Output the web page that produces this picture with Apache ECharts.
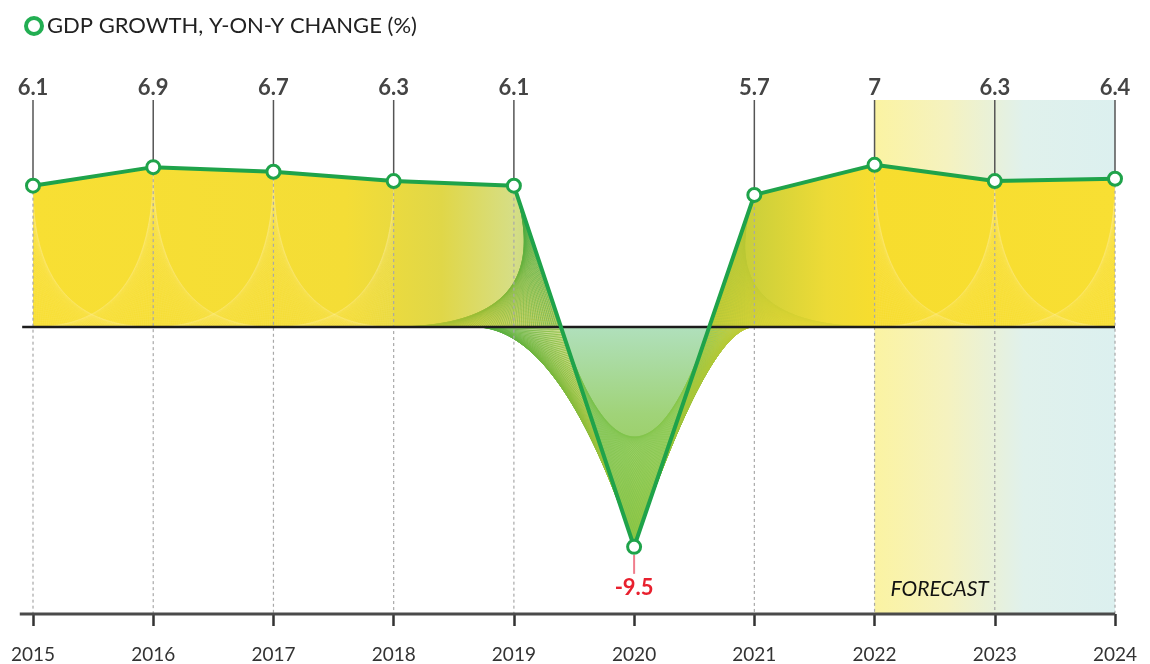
<!DOCTYPE html>
<html>
<head>
<meta charset="utf-8">
<script src="https://cdn.jsdelivr.net/npm/echarts@6/dist/echarts.min.js"></script>
<style>
  html, body { margin: 0; padding: 0; background: #fff; }
  #chart { width: 1150px; height: 664px; }
</style>
</head>
<body>
<div id="chart"></div>
<script>
// GDP growth, year-on-year change (%)
const years = ['2015', '2016', '2017', '2018', '2019', '2020', '2021', '2022', '2023', '2024'];
const growth = [6.1, 6.9, 6.7, 6.3, 6.1, -9.5, 5.7, 7, 6.3, 6.4];
const forecastStart = '2022';
const forecastEnd = '2024';
const seriesName = 'GDP GROWTH, Y-ON-Y CHANGE (%)';
const forecastLabel = 'FORECAST';

const Y_MIN = -12.4;
const Y_MAX = 9.8;
const GREEN = '#1fa34a';
const FONT = 'Lato, "Open Sans", sans-serif';

const chart = echarts.init(document.getElementById('chart'), null, { renderer: 'canvas' });

function hexToRgb(h) {
  h = h.replace('#', '');
  return [parseInt(h.slice(0, 2), 16), parseInt(h.slice(2, 4), 16), parseInt(h.slice(4, 6), 16)];
}
function mix(c0, c1, t) {
  const a = hexToRgb(c0), b = hexToRgb(c1);
  const r = a.map((v, i) => Math.round(v + (b[i] - v) * t));
  return 'rgb(' + r.join(',') + ')';
}
function lerp(p, q, t) {
  return [p[0] + (q[0] - p[0]) * t, p[1] + (q[1] - p[1]) * t];
}
// string-art fan: chords from A->B to B->C
function strings(A, B, C, n, c0, c1, width, opacity) {
  const out = [];
  for (let k = 0; k <= n; k++) {
    const t = k / n;
    const p = lerp(A, B, t), q = lerp(B, C, t);
    out.push({
      type: 'line', silent: true,
      shape: { x1: p[0], y1: p[1], x2: q[0], y2: q[1] },
      style: { stroke: mix(c0, c1, t), lineWidth: width, opacity: opacity }
    });
  }
  return out;
}

function renderArt(params, api) {
  const n = growth.length;
  const P = growth.map((v, i) => api.coord([i, v]));
  const Z = growth.map((v, i) => api.coord([i, 0]));
  const bottomY = api.coord([0, Y_MIN])[1];
  const topY = api.coord([0, Y_MAX])[1];
  const children = [];

  // split the profile into runs above / below zero
  const runs = [];
  let cur = { sign: growth[0] >= 0, pts: [Z[0], P[0]] };
  const crossings = {};
  for (let i = 0; i < n - 1; i++) {
    const a = growth[i], b = growth[i + 1];
    if ((a >= 0) !== (b >= 0)) {
      const t = a / (a - b);
      const X = api.coord([i + t, 0]);
      crossings[i] = X;
      cur.pts.push(X);
      runs.push(cur);
      cur = { sign: b >= 0, pts: [X] };
    }
    cur.pts.push(P[i + 1]);
  }
  cur.pts.push(Z[n - 1]);
  runs.push(cur);

  const x0 = Z[0][0], x1 = Z[n - 1][0];
  const f = (yr) => yr / (n - 1);
  const upperFill = new echarts.graphic.LinearGradient(x0, 0, x1, 0, [
    { offset: 0, color: '#f8df33' },
    { offset: f(2.6), color: '#f4dd36' },
    { offset: f(3.4), color: '#e0d748' },
    { offset: f(4), color: '#d6de86' },
    { offset: f(4.3), color: '#b8d27a' },
    { offset: f(5), color: '#8cc445' },
    { offset: f(5.7), color: '#b6c93a' },
    { offset: f(6), color: '#cdd03a' },
    { offset: f(6.6), color: '#eedb36' },
    { offset: f(7), color: '#f7dd2e' },
    { offset: 1, color: '#f8df33' }
  ], true);
  const lowerFill = new echarts.graphic.LinearGradient(0, 0, 0, 1, [
    { offset: 0, color: '#b0e0bc' },
    { offset: 0.4, color: '#a0d378' },
    { offset: 1, color: '#8fc53c' }
  ]);
  runs.forEach(r => {
    children.push({
      type: 'polygon', silent: true,
      shape: { points: r.pts },
      style: { fill: r.sign ? upperFill : lowerFill }
    });
  });

  // fine chords over the yellow area
  for (let i = 0; i < n - 1; i++) {
    if (growth[i] >= 0 && growth[i + 1] >= 0 && !(growth[i - 1] < 0) && !(growth[i + 2] < 0)) {
      children.push(...strings(P[i], Z[i], Z[i + 1], 60, '#fff7c4', '#fff3a8', 0.5, 0.14));
      children.push(...strings(Z[i], Z[i + 1], P[i + 1], 60, '#fff3a8', '#fff7c4', 0.5, 0.14));
    }
  }

  // fans around the dip
  for (let k = 1; k < n - 1; k++) {
    if (growth[k] < 0 && crossings[k - 1] && crossings[k]) {
      const XL = crossings[k - 1], XR = crossings[k];
      const wingL = api.coord([k - 1 - 0.33, 0]);
      // V interior
      children.push(...strings(XL, P[k], XR, 70, '#74bf4c', '#8cc84a', 0.7, 0.65));
      // wings below zero
      children.push(...strings(wingL, XL, P[k], 80, '#4aab42', '#a5c43a', 0.8, 0.9));
      children.push(...strings(P[k], XR, Z[k + 1], 80, '#86bf3c', '#c2cc36', 0.8, 0.9));
      // fans above zero
      if (k >= 2) children.push(...strings(Z[k - 2], XL, P[k - 1], 80, '#c8c82e', '#3fa845', 0.7, 0.7));
      if (k + 2 < n) children.push(...strings(P[k + 1], XR, Z[k + 2], 80, '#a8c236', '#e6d632', 0.7, 0.55));
    }
  }

  // dotted guides from each point to the bottom axis
  for (let i = 0; i < n; i++) {
    if (growth[i] < 0) continue;
    children.push({
      type: 'line', silent: true,
      shape: { x1: P[i][0], y1: P[i][1], x2: P[i][0], y2: bottomY },
      style: { stroke: '#a8a8a8', lineWidth: 1.2, lineDash: [3, 3] }
    });
  }

  // zero line
  const zl = api.coord([-0.09, 0]);
  children.push({
    type: 'line', silent: true,
    shape: { x1: zl[0], y1: zl[1], x2: Z[n - 1][0], y2: Z[n - 1][1] },
    style: { stroke: '#1c1c1c', lineWidth: 2.5 }
  });

  // bottom axis line
  const bl = api.coord([-0.11, Y_MIN]);
  children.push({
    type: 'line', silent: true,
    shape: { x1: bl[0], y1: bottomY, x2: Z[n - 1][0], y2: bottomY },
    style: { stroke: '#4a4a4a', lineWidth: 3 }
  });

  // value callouts
  for (let i = 0; i < n; i++) {
    const txt = String(growth[i]);
    if (growth[i] >= 0) {
      children.push({
        type: 'line', silent: true,
        shape: { x1: P[i][0], y1: topY, x2: P[i][0], y2: P[i][1] - 6 },
        style: { stroke: '#555', lineWidth: 1.5 }
      });
      children.push({
        type: 'text', silent: true,
        x: P[i][0], y: topY - 12,
        style: { text: txt, fill: '#444', font: '700 22px ' + FONT, align: 'center', verticalAlign: 'middle' }
      });
    } else {
      children.push({
        type: 'line', silent: true,
        shape: { x1: P[i][0], y1: P[i][1] + 8, x2: P[i][0], y2: P[i][1] + 27 },
        style: { stroke: '#f07d8c', lineWidth: 2 }
      });
      children.push({
        type: 'text', silent: true,
        x: P[i][0], y: P[i][1] + 41,
        style: { text: txt, fill: '#e8202e', font: '700 22px ' + FONT, align: 'center', verticalAlign: 'middle' }
      });
    }
  }
  return { type: 'group', children: children };
}

const option = {
  animation: false,
  backgroundColor: '#ffffff',
  legend: {
    left: 24, top: 15, padding: 0,
    itemWidth: 16, itemHeight: 16, itemGap: 12,
    textStyle: { fontFamily: FONT, fontSize: 22, color: '#222' },
    data: [{
      name: seriesName, icon: 'circle',
      itemStyle: { color: '#fff', borderColor: '#22ae52', borderWidth: 4 }
    }],
    selectedMode: false
  },
  grid: { left: 33, right: 35, top: 100, bottom: 50 },
  xAxis: {
    type: 'value', min: 0, max: years.length - 1, interval: 1,
    axisLine: { show: false, onZero: false },
    axisTick: { show: true, length: 12, lineStyle: { color: '#333', width: 2.5 } },
    axisLabel: {
      margin: 31, fontFamily: FONT, fontSize: 19, color: '#333',
      formatter: v => years[v] || ''
    },
    splitLine: { show: false }
  },
  yAxis: {
    type: 'value', min: Y_MIN, max: Y_MAX,
    show: false, splitLine: { show: false }
  },
  series: [
    {
      name: 'forecast-band', type: 'line', data: [], z: 1, silent: true,
      markArea: {
        silent: true,
        itemStyle: {
          color: new echarts.graphic.LinearGradient(0, 0, 1, 0, [
            { offset: 0, color: '#fbf3a2' },
            { offset: 0.3, color: '#f5f2bf' },
            { offset: 0.5, color: '#e8f1da' },
            { offset: 0.62, color: '#e0f1ec' },
            { offset: 1, color: '#dcf0ef' }
          ])
        },
        label: {
          show: true, position: 'insideBottomLeft', distance: 14, offset: [2, 0],
          fontFamily: FONT, fontSize: 21, fontStyle: 'italic', color: '#111'
        },
        data: [[
          { name: forecastLabel, xAxis: years.indexOf(forecastStart) },
          { xAxis: years.indexOf(forecastEnd) }
        ]]
      }
    },
    {
      name: 'art', type: 'custom', z: 2, silent: true,
      renderItem: renderArt,
      data: [0]
    },
    {
      name: seriesName, type: 'line', z: 5,
      data: growth.map((v, i) => [i, v]),
      lineStyle: { color: GREEN, width: 4 },
      itemStyle: { color: '#fff', borderColor: GREEN, borderWidth: 3 },
      symbol: 'circle', symbolSize: 13, showAllSymbol: true
    }
  ]
};
chart.setOption(option);
</script>
</body>
</html>
